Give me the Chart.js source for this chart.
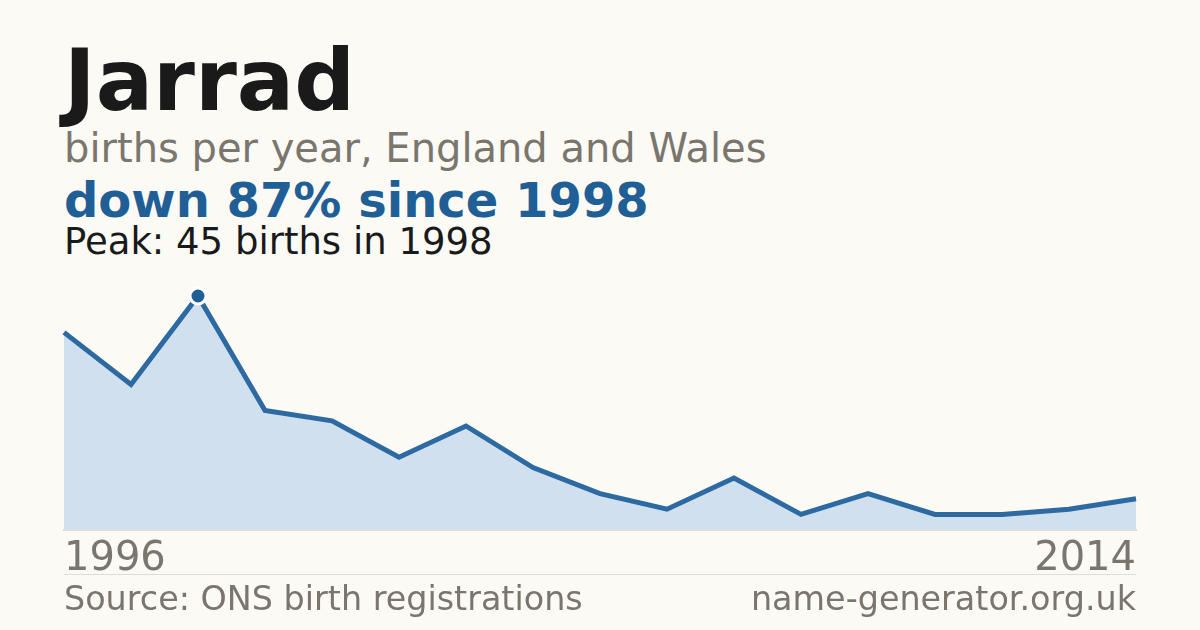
<!DOCTYPE html>
<html>
<head>
<meta charset="utf-8">
<script src="https://cdn.jsdelivr.net/npm/chart.js@4/dist/chart.umd.min.js"></script>
<style>
  html, body { margin:0; padding:0; }
  body { width:1200px; height:630px; background:#fbfaf5; position:relative; overflow:hidden; font-family:"DejaVu Sans", sans-serif; }
  .t { position:absolute; left:64px; white-space:nowrap; }
  #title { top:38px; font-size:85px; font-weight:bold; color:#1a1a1a; line-height:1; }
  #sub { top:128px; font-size:40px; color:#7a766e; line-height:1; }
  #trend { top:176px; font-size:48px; font-weight:bold; color:#1f5f96; line-height:1; }
  #peak { top:223px; font-size:37px; color:#1a1a1a; line-height:1; }
  #sep { position:absolute; left:64px; width:1072px; top:574px; height:1px; background:#e0ddd5; }
  #src { top:582px; font-size:33.4px; color:#7a766e; line-height:1; }
  #site { position:absolute; right:64px; top:582px; font-size:33.4px; color:#7a766e; line-height:1; white-space:nowrap; }
  #wrap { position:absolute; left:0; top:260px; width:1200px; height:330px; }
</style>
</head>
<body>
<div class="t" id="title">Jarrad</div>
<div class="t" id="sub">births per year, England and Wales</div>
<div class="t" id="trend">down 87% since 1998</div>
<div class="t" id="peak">Peak: 45 births in 1998</div>
<div id="wrap"><canvas id="c"></canvas></div>
<div id="sep"></div>
<div class="t" id="src">Source: ONS birth registrations</div>
<div id="site">name-generator.org.uk</div>
<script>
const years = ["1996","1997","1998","1999","2000","2001","2002","2003","2004","2005","2006","2007","2008","2009","2010","2013","2014"];
const births = [38, 28, 45, 23, 21, 14, 20, 12, 7, 4, 10, 3, 7, 3, 3, 4, 6];
const peakIndex = 2;

new Chart(document.getElementById('c'), {
  type: 'line',
  data: {
    labels: years,
    datasets: [{
      data: births,
      borderColor: '#2d6aa2',
      backgroundColor: '#d0e0ef',
      borderWidth: 5,
      fill: 'origin',
      tension: 0,
      pointRadius: births.map((v, i) => i === peakIndex ? 8 : 0),
      pointHoverRadius: 0,
      pointBackgroundColor: '#1f5f96',
      pointBorderColor: '#ffffff',
      pointBorderWidth: 3
    }]
  },
  options: {
    responsive: true,
    maintainAspectRatio: false,
    animation: false,
    events: [],
    clip: false,
    layout: { padding: { left: 64, right: 64, top: 36, bottom: 0 } },
    plugins: { legend: { display: false }, tooltip: { enabled: false } },
    scales: {
      x: {
        offset: false,
        grid: { display: false, drawTicks: false },
        border: { display: true, color: '#e3ddd0', width: 2 },
        ticks: {
          autoSkip: false,
          maxRotation: 0,
          align: 'inner',
          padding: 6,
          color: '#7a766e',
          font: { family: 'DejaVu Sans', size: 40 },
          callback: function(v, i) { return (i === 0 || i === years.length - 1) ? years[i] : ''; }
        }
      },
      y: { display: false, min: 0, max: 45 }
    }
  }
});
</script>
</body>
</html>
